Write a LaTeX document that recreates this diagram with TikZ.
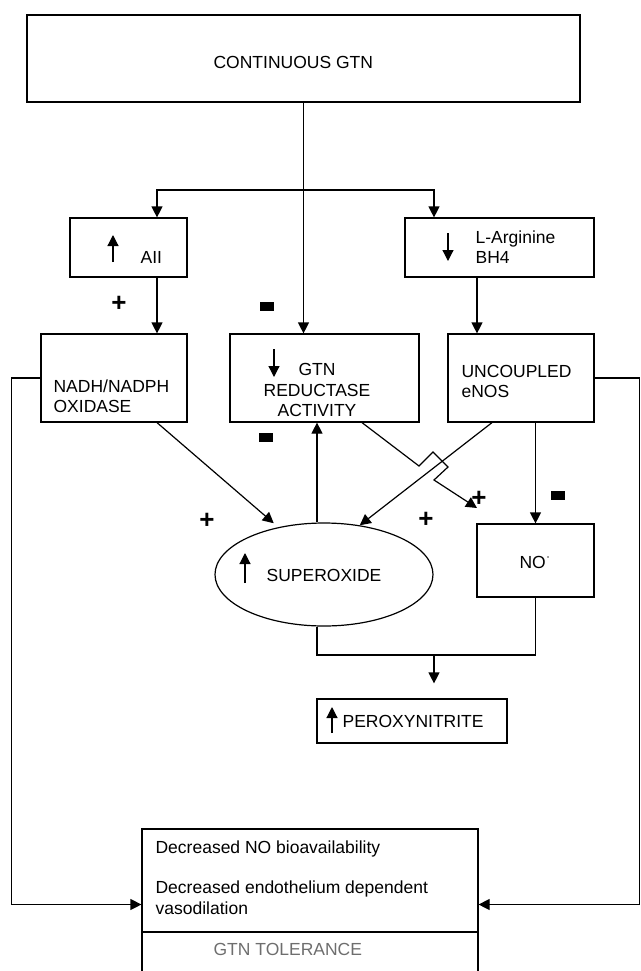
\documentclass[tikz,border=0pt]{standalone}
\usepackage{fontspec}
\setmainfont{Liberation Sans}
\usetikzlibrary{arrows.meta,shapes.geometric}
\definecolor{tolgray}{RGB}{110,110,110}
\tikzset{
  box/.style={draw,rectangle,inner sep=0pt},
  txt/.style={inner sep=0pt,anchor=base west},
  conn/.style={-{Triangle[length=5.5pt,width=5.5pt]}},
  possign/.style={inner sep=0pt,font=\fontsize{13}{13}\selectfont\bfseries},
  negsign/.style={fill=black,inner sep=0pt,minimum width=7pt,minimum height=4.5pt},
}
\begin{document}
\begin{tikzpicture}[x=0.5pt,y=-0.5pt,line width=0.6pt,font=\fontsize{8.75}{10}\selectfont]
\useasboundingbox (0,0) rectangle (641,971);
% boxes
\node[box,minimum width=276.5pt,minimum height=43.5pt] (gtn) at (303.5,58.5) {};
\node[box,minimum width=58.5pt,minimum height=29.5pt] (aii) at (128.5,247.5) {};
\node[box,minimum width=94.5pt,minimum height=29.5pt] (larg) at (499.5,247.5) {};
\node[box,minimum width=73pt,minimum height=44pt] (nadh) at (114,378) {};
\node[box,minimum width=94.5pt,minimum height=44pt] (red) at (324.5,378) {};
\node[box,minimum width=73pt,minimum height=44pt] (enos) at (521,378) {};
\node[draw,ellipse,inner sep=0pt,minimum width=109pt,minimum height=51.5pt] (sup) at (324,574.5) {};
\node[box,minimum width=58.5pt,minimum height=36.5pt] (no) at (535.5,560.5) {};
\node[box,minimum width=95pt,minimum height=22pt] (onoo) at (412,721) {};
\node[box,minimum width=168pt,minimum height=75.5pt] (tol) at (310,904.5) {};
\draw (tol.west |- 0,932) -- (tol.east |- 0,932);
% texts
\node[txt] (gtnt) at (213,68) {CONTINUOUS GTN};
\node[txt] (aiit) at (140,263) {AII};
\node[txt] (larga) at (475,243) {L-Arginine};
\node[txt] (largb) at (475,263) {BH4};
\node[txt] (nadha) at (53,392) {NADH/NADPH};
\node[txt] (nadhb) at (53,412) {OXIDASE};
\node[txt,anchor=base] (reda) at (317,375) {GTN};
\node[txt,anchor=base] (redb) at (317,396) {REDUCTASE};
\node[txt,anchor=base] (redc) at (317,416) {ACTIVITY};
\node[txt] (enosa) at (461,377) {UNCOUPLED};
\node[txt] (enosb) at (461,397) {eNOS};
\node[txt,anchor=base] (supt) at (324,581) {SUPEROXIDE};
\node[txt] (not) at (519,568) {NO$^{\cdot}$};
\node[txt] (onoot) at (342,727) {PEROXYNITRITE};
\node[txt] (tola) at (155,853) {Decreased NO bioavailability};
\node[txt] (tolb) at (155,893) {Decreased endothelium dependent};
\node[txt] (tolc) at (155,914) {vasodilation};
\node[txt,text=tolgray] (told) at (213,955) {GTN TOLERANCE};
% up and down marks
\draw[conn] (113,262) -- (113,235);
\draw[conn] (448,233) -- (448,261);
\draw[conn] (274,349) -- (274,377);
\draw[conn] (245,583) -- (245,553);
\draw[conn] (332,733) -- (332,707);
% signs
\node[possign] (p1) at (119,304) {+};
\node[negsign] (m1) at (267,306) {};
\node[negsign] (m2) at (266,437) {};
\node[possign] (p2) at (207,521) {+};
\node[possign] (p3) at (426,520) {+};
\node[possign] (p4) at (479,499) {+};
\node[negsign] (m3) at (558,495) {};
% connectors
\coordinate (j) at (303.5,190);
\coordinate (cl) at (157,0);
\coordinate (cr) at (434,0);
\coordinate (ce) at (477,0);
\coordinate (cm) at (317,0);
\coordinate (rs) at (362,0);
\coordinate (es) at (492,0);
\coordinate (jt) at (477,508);
\coordinate (k) at (434,655);
\draw (gtn.south) -- (j);
\draw[conn] (j) -| (cl |- aii.north);
\draw[conn] (j) -| (cr |- larg.north);
\draw[conn] (j) -- (j |- red.north);
\draw[conn] (cl |- aii.south) -- (cl |- nadh.north);
\draw[conn] (ce |- larg.south) -- (ce |- enos.north);
\draw[conn] (nadh.west) -- ++(-29,0) |- (tol.west);
\draw[conn] (enos.east) -- ++(45,0) |- (tol.east);
\draw[conn,shorten >=3pt] (cl |- nadh.south) -- (sup.134);
\draw[conn] (cm |- sup.north) -- (cm |- red.south);
\draw[conn] (es |- enos.south) -- (sup.54);
\draw[conn] (rs |- red.south) -- (419,466) -- (433,452) -- (448,467) -- (434,480) -- (jt);
\draw[conn] (enos.south -| no.north) -- (no.north);
\draw (cm |- sup.south) |- (k) -| (no.south);
\draw[conn,shorten >=7.5pt] (k) -- (k |- onoo.north);
\end{tikzpicture}
\end{document}
